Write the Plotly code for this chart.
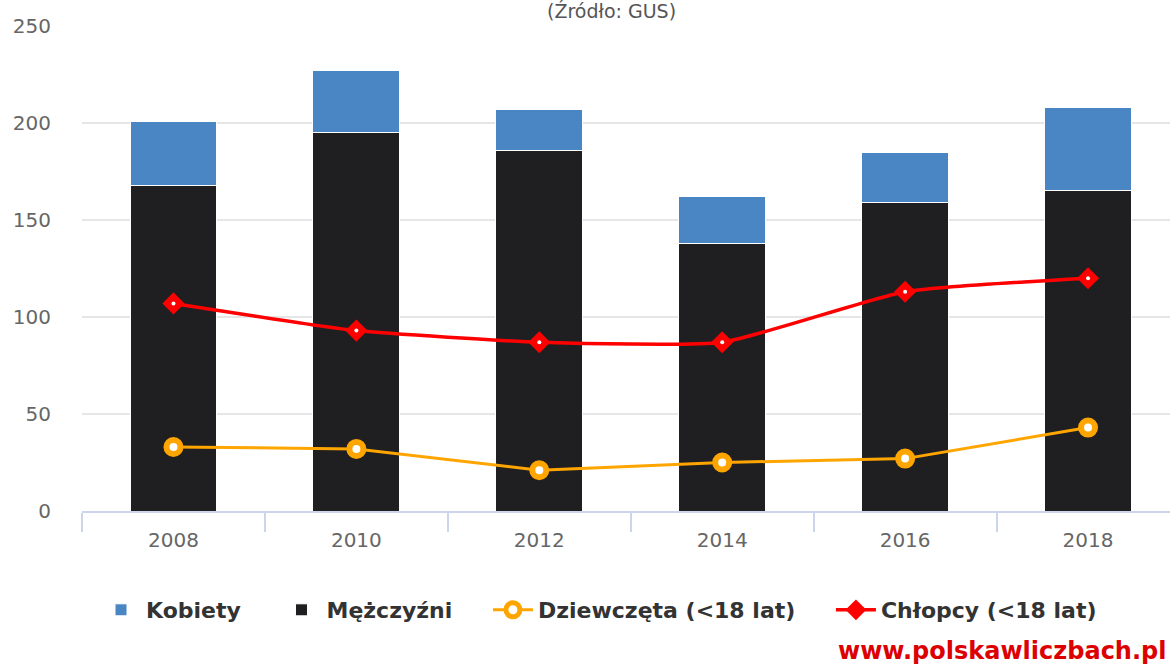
import plotly.graph_objects as go

years = ["2008", "2010", "2012", "2014", "2016", "2018"]
mezczyzni = [168, 195, 186, 138, 159, 165]
kobiety = [33, 32, 21, 24, 26, 43]
dziewczeta = [33, 32, 21, 25, 27, 43]
chlopcy = [107, 93, 87, 87, 113, 120]

W, H = 1170, 666
ml, mt, mb = 82, 26, 155
plot_h = H - mt - mb
plot_w = W - ml
pad = "\u00a0" * 4

fig = go.Figure()
fig.add_trace(go.Bar(
    x=years, y=mezczyzni, name="Mężczyźni" + pad, legendrank=2,
    marker=dict(color="#1f1f22", line=dict(color="white", width=1)),
    width=0.475,
))
fig.add_trace(go.Bar(
    x=years, y=kobiety, name="Kobiety" + pad, legendrank=1,
    marker=dict(color="#4a86c4", line=dict(color="white", width=1)),
    width=0.475,
))
fig.add_trace(go.Scatter(
    x=years, y=dziewczeta, name="Dziewczęta (<18 lat)" + pad, legendrank=3,
    mode="lines+markers",
    line=dict(color="#ffa500", width=3),
    marker=dict(symbol="circle", size=14, color="white",
                line=dict(color="#ffa500", width=6)),
))
fig.add_trace(go.Scatter(
    x=years, y=chlopcy, name="Chłopcy (<18 lat)", legendrank=4,
    mode="lines+markers", legendgroup="ch",
    line=dict(color="#ff0000", width=3.5, shape="spline", smoothing=0.5),
    marker=dict(symbol="diamond", size=17, color="#ff0000",
                line=dict(width=0)),
))
fig.add_trace(go.Scatter(
    x=years, y=chlopcy, mode="markers", legendgroup="ch", showlegend=False,
    marker=dict(symbol="circle", size=4, color="white", line=dict(width=0)),
    hoverinfo="skip",
))

x_end = 5.5 - (1179.5 - W) / 183.0

fig.update_layout(
    width=W, height=H,
    margin=dict(l=ml, r=0, t=mt, b=mb),
    barmode="stack",
    plot_bgcolor="white", paper_bgcolor="white",
    font=dict(family="DejaVu Sans", color="#666666"),
    showlegend=True,
    legend=dict(
        orientation="h", x=(96 - ml) / plot_w, xanchor="left",
        y=(H - mb - 610) / plot_h, yanchor="middle",
        font=dict(size=22, color="#333333", family="DejaVu Sans", weight="bold"),
        itemwidth=40, tracegroupgap=0,
    ),
    xaxis=dict(
        type="category", range=[-0.5, x_end],
        showgrid=False, showline=True, linecolor="#ccd6eb", linewidth=1.5,
        ticks="outside", tickson="boundaries", ticklen=19,
        tickcolor="#ccd6eb", tickwidth=1.5,
        tickfont=dict(size=20, color="#666666"),
        ticklabelstandoff=10,
        fixedrange=True,
    ),
    yaxis=dict(
        range=[0, 250], dtick=50, showgrid=True, gridcolor="#e6e6e6",
        gridwidth=1.5, zeroline=False, showline=False,
        tickfont=dict(size=20, color="#666666"),
        ticklabelstandoff=30,
    ),
    annotations=[
        dict(text="(Źródło: GUS)", xref="paper", yref="paper",
             x=(611 - ml) / plot_w, y=1 + (mt - 11) / plot_h,
             xanchor="center", yanchor="middle", showarrow=False,
             font=dict(size=19, color="#555555", family="DejaVu Sans")),
        dict(text="<b>www.polskawliczbach.pl</b>", xref="paper", yref="paper",
             x=(1168 - ml) / plot_w, y=(H - mb - 651) / plot_h,
             xanchor="right", yanchor="middle", showarrow=False,
             font=dict(size=24, color="#dd0000", family="DejaVu Sans")),
    ],
)

fig.write_html("out.html", config={"displayModeBar": False},
               post_script="document.body.style.margin='0';")
